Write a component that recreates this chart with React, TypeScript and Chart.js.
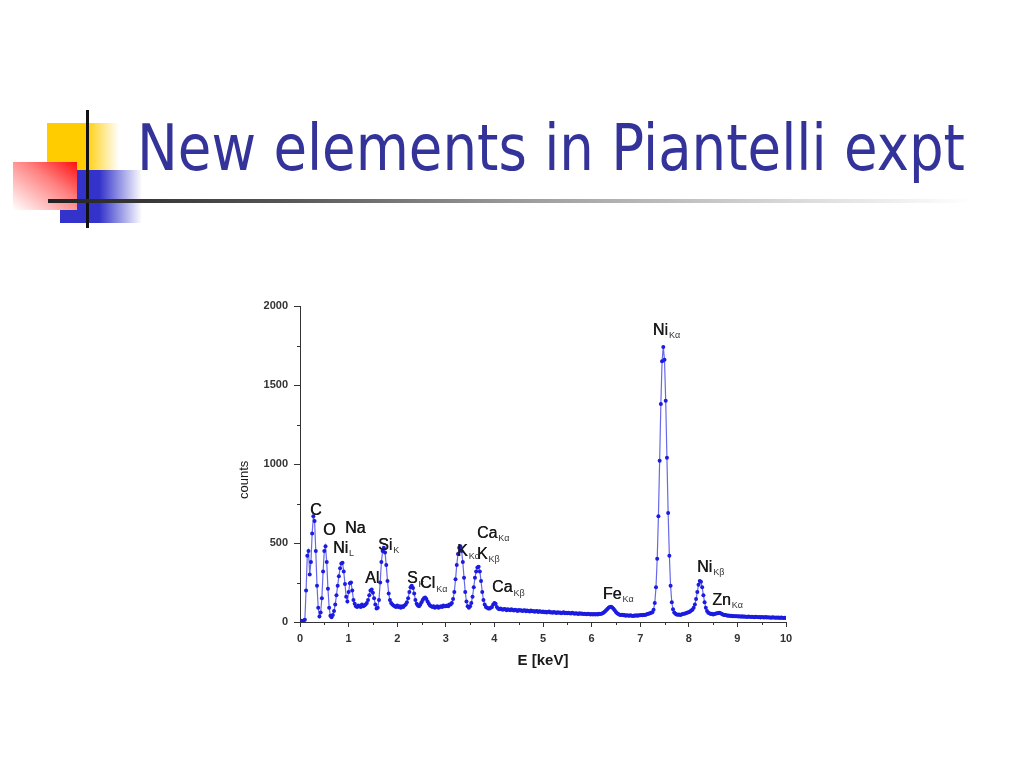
import React, { useEffect, useLayoutEffect, useRef } from "react";
import { Chart, registerables } from "chart.js";

Chart.register(...registerables);

// ---------------- DATA ----------------
const TITLE = "New elements in Piantelli expt";
const X_AXIS_TITLE = "E [keV]";
const Y_AXIS_TITLE = "counts";

// channel width of the spectrum (keV per channel)
const CHANNEL_KEV = 0.025;

// counts per channel, one array per keV
const counts0to1 = [5, 8, 6, 10, 15, 200, 420, 450, 300, 380, 560, 670, 640, 450, 230, 90, 35, 60, 150, 320, 450, 480, 380, 210, 90, 40, 30, 45, 70, 110, 170, 230, 290, 340, 370, 375, 320, 240, 160, 130];
const counts1to2 = [190, 245, 250, 200, 140, 115, 100, 95, 105, 100, 95, 110, 100, 105, 110, 120, 140, 170, 200, 205, 185, 150, 110, 85, 90, 140, 250, 380, 450, 470, 440, 360, 260, 180, 140, 120, 110, 105, 100, 95];
const counts2to3 = [105, 95, 100, 90, 100, 95, 105, 110, 125, 150, 190, 220, 230, 215, 180, 140, 115, 105, 100, 110, 125, 140, 150, 155, 145, 130, 115, 105, 100, 95, 100, 90, 95, 100, 90, 95, 100, 95, 105, 100];
const counts3to4 = [100, 105, 100, 110, 110, 120, 145, 190, 270, 360, 430, 470, 480, 450, 380, 280, 190, 130, 100, 90, 100, 120, 160, 220, 280, 320, 345, 350, 320, 260, 190, 140, 110, 95, 90, 85, 85, 90, 95, 110];
const counts4to5 = [120, 115, 95, 85, 80, 85, 80, 78, 82, 80, 75, 80, 78, 74, 80, 76, 72, 78, 75, 70, 76, 72, 74, 70, 72, 75, 68, 72, 70, 66, 72, 68, 70, 65, 68, 70, 64, 68, 66, 63];
const counts5to6 = [66, 62, 65, 60, 63, 66, 60, 62, 58, 63, 60, 57, 62, 58, 60, 56, 59, 62, 56, 58, 55, 59, 56, 54, 58, 55, 52, 56, 54, 51, 55, 52, 54, 50, 53, 51, 49, 52, 50, 48];
const counts6to7 = [50, 48, 51, 47, 50, 48, 52, 50, 53, 56, 60, 66, 74, 82, 90, 95, 96, 92, 84, 74, 64, 56, 50, 46, 44, 46, 42, 44, 40, 43, 41, 39, 42, 40, 38, 41, 39, 42, 40, 43];
const counts7to8 = [42, 44, 43, 46, 45, 48, 50, 52, 55, 58, 62, 78, 120, 220, 400, 670, 1020, 1380, 1650, 1740, 1660, 1400, 1040, 690, 420, 230, 125, 80, 60, 52, 48, 46, 47, 45, 48, 50, 52, 54, 57, 60];
const counts8to9 = [62, 66, 72, 78, 90, 110, 145, 190, 235, 260, 255, 220, 170, 125, 90, 70, 58, 55, 50, 52, 48, 50, 52, 55, 56, 58, 55, 52, 48, 45, 44, 42, 40, 41, 38, 40, 37, 38, 36, 37];
const counts9to10 = [36, 35, 37, 34, 36, 33, 35, 34, 32, 35, 33, 31, 34, 32, 30, 33, 31, 30, 32, 29, 31, 30, 28, 31, 29, 30, 28, 29, 27, 30, 28, 27, 29, 27, 28, 26, 28, 27, 26, 27, 26];

const X_MIN = 0;
const X_MAX = 10;
const X_STEP = 1;
const X_MINOR = [0.5, 1.5, 2.5, 3.5, 4.5, 5.5, 6.5, 7.5, 8.5, 9.5];
const Y_MIN = 0;
const Y_MAX = 2000;
const Y_STEP = 500;
const Y_MINOR = [250, 750, 1250, 1750];

// peak labels: main text, subscript, anchor (left edge, vertical middle) in data units
const peakLabels = [
  { main: "C", sub: "", e: 0.206, c: 703 },
  { main: "O", sub: "", e: 0.473, c: 576 },
  { main: "Na", sub: "", e: 0.926, c: 589 },
  { main: "Ni", sub: "L", e: 0.679, c: 462 },
  { main: "Al", sub: "", e: 1.337, c: 272 },
  { main: "Si", sub: "K", e: 1.605, c: 481 },
  { main: "S", sub: "K", e: 2.2, c: 272 },
  { main: "Cl", sub: "Kα", e: 2.47, c: 240 },
  { main: "K", sub: "Kα", e: 3.23, c: 443 },
  { main: "Ca", sub: "Kα", e: 3.64, c: 557 },
  { main: "K", sub: "Kβ", e: 3.64, c: 424 },
  { main: "Ca", sub: "Kβ", e: 3.95, c: 215 },
  { main: "Fe", sub: "Kα", e: 6.23, c: 171 },
  { main: "Ni", sub: "Kα", e: 7.26, c: 1842 },
  { main: "Ni", sub: "Kβ", e: 8.17, c: 342 },
  { main: "Zn", sub: "Kα", e: 8.48, c: 133 },
];

// ---------------- STYLE ----------------
const FONT = '"Liberation Sans", Arial, sans-serif';
const AXIS_COLOR = "#333";
const TEXT_COLOR = "#1a1a1a";
const TICK_COLOR = "#333";
const POINT_COLOR = "#1c1ce0";
const LINE_COLOR = "rgba(40,40,225,0.7)";

const allCounts = [
  ...counts0to1, ...counts1to2, ...counts2to3, ...counts3to4, ...counts4to5,
  ...counts5to6, ...counts6to7, ...counts7to8, ...counts8to9, ...counts9to10,
];
const spectrum = allCounts.map((v, i) => ({ x: +(i * CHANNEL_KEV).toFixed(3), y: v }));

const overlayPlugin = {
  id: "overlay",
  afterDraw(chart: any) {
    const { ctx, chartArea } = chart;
    const xs = chart.scales.x;
    const ys = chart.scales.y;
    ctx.save();
    // minor ticks
    ctx.strokeStyle = AXIS_COLOR;
    ctx.lineWidth = 1;
    for (const v of Y_MINOR) {
      const py = Math.round(ys.getPixelForValue(v)) + 0.5;
      ctx.beginPath();
      ctx.moveTo(chartArea.left - 3, py);
      ctx.lineTo(chartArea.left, py);
      ctx.stroke();
    }
    for (const v of X_MINOR) {
      const px = Math.round(xs.getPixelForValue(v)) + 0.5;
      ctx.beginPath();
      ctx.moveTo(px, chartArea.bottom);
      ctx.lineTo(px, chartArea.bottom + 3);
      ctx.stroke();
    }
    // peak labels
    ctx.textBaseline = "middle";
    ctx.textAlign = "left";
    for (const l of peakLabels) {
      const px = xs.getPixelForValue(l.e);
      const py = ys.getPixelForValue(l.c);
      ctx.font = `16px ${FONT}`;
      ctx.fillStyle = TEXT_COLOR;
      ctx.fillText(l.main, px, py);
      ctx.fillText(l.main, px + 0.4, py);
      if (l.sub) {
        const w = ctx.measureText(l.main).width;
        ctx.font = `9px ${FONT}`;
        ctx.fillStyle = "#333";
        ctx.fillText(l.sub, px + w + 1, py + 5);
      }
    }
    // axis titles
    ctx.fillStyle = TEXT_COLOR;
    ctx.font = `bold 15px ${FONT}`;
    ctx.textAlign = "center";
    ctx.fillText(X_AXIS_TITLE, (chartArea.left + chartArea.right) / 2, chartArea.bottom + 39);
    ctx.save();
    ctx.translate(chartArea.left - 56, ys.getPixelForValue(900));
    ctx.rotate(-Math.PI / 2);
    ctx.font = `13px ${FONT}`;
    ctx.fillText(Y_AXIS_TITLE, 0, 0);
    ctx.restore();
    ctx.restore();
  },
};

function SpectrumChart() {
  const ref = useRef<HTMLCanvasElement>(null);
  useEffect(() => {
    if (!ref.current) return;
    const chart = new Chart(ref.current, {
      type: "scatter",
      data: {
        datasets: [
          {
            data: spectrum,
            showLine: true,
            borderColor: LINE_COLOR,
            borderWidth: 1.2,
            pointRadius: 2,
            pointBackgroundColor: POINT_COLOR,
            pointBorderWidth: 0,
          },
        ],
      },
      options: {
        animation: false,
        responsive: false,
        events: [],
        layout: { padding: { top: 16, right: 34, left: 0, bottom: 0 } },
        plugins: { legend: { display: false }, tooltip: { enabled: false } },
        scales: {
          x: {
            type: "linear",
            min: X_MIN,
            max: X_MAX,
            ticks: { stepSize: X_STEP, font: { family: FONT, size: 11, weight: "bold" }, color: TICK_COLOR, padding: 5, callback: (v: any) => String(v) },
            grid: { drawOnChartArea: false, drawTicks: true, tickLength: 5, color: AXIS_COLOR },
            border: { display: true, color: AXIS_COLOR, width: 1 },
            afterFit: (s: any) => { s.height = 68; },
          },
          y: {
            type: "linear",
            min: Y_MIN,
            max: Y_MAX,
            ticks: { stepSize: Y_STEP, font: { family: FONT, size: 11, weight: "bold" }, color: TICK_COLOR, padding: 6, callback: (v: any) => String(v) },
            grid: { drawOnChartArea: false, drawTicks: true, tickLength: 6, color: AXIS_COLOR },
            border: { display: true, color: AXIS_COLOR, width: 1 },
            afterFit: (s: any) => { s.width = 80; },
          },
        },
      },
      plugins: [overlayPlugin],
    });
    return () => chart.destroy();
  }, []);
  return (
    <canvas
      ref={ref}
      width={600}
      height={400}
      style={{ position: "absolute", left: 220, top: 290, width: 600, height: 400 }}
    />
  );
}

export default function App() {
  const titleRef = useRef<HTMLDivElement>(null);
  useLayoutEffect(() => {
    const el = titleRef.current;
    if (!el) return;
    const w = el.offsetWidth;
    if (w > 0) el.style.transform = `scaleX(${828 / w})`;
  }, []);
  return (
    <div style={{ position: "absolute", left: 0, top: 0, width: 1024, height: 768, background: "#fff", overflow: "hidden" }}>
      {/* slide decorations */}
      <div style={{ position: "absolute", left: 47, top: 123, width: 72, height: 48, background: "linear-gradient(to right, #ffcc00 0%, #ffcc00 53%, rgba(255,204,0,0) 100%)" }} />
      <div style={{ position: "absolute", left: 60, top: 170, width: 82, height: 53, background: "linear-gradient(to right, #3333cc 0%, #3333cc 48%, rgba(51,51,204,0) 100%)" }} />
      <div style={{ position: "absolute", left: 13, top: 162, width: 64, height: 48, background: "linear-gradient(to bottom left, #ff1010 0%, #ff8080 40%, #ffffff 100%)" }} />
      <div style={{ position: "absolute", left: 86, top: 110, width: 3, height: 118, background: "#111" }} />
      <div style={{ position: "absolute", left: 48, top: 199, width: 925, height: 4, background: "linear-gradient(to right, #222 0%, #555 25%, #999 50%, #d8d8d8 80%, #ffffff 100%)" }} />
      <div
        ref={titleRef}
        style={{
          position: "absolute",
          left: 137,
          top: 116,
          fontFamily: '"DejaVu Sans", Verdana, sans-serif',
          fontSize: 64,
          lineHeight: "64px",
          color: "#333399",
          whiteSpace: "nowrap",
          display: "inline-block",
          transformOrigin: "left top",
        }}
      >
        {TITLE}
      </div>
      <SpectrumChart />
    </div>
  );
}
